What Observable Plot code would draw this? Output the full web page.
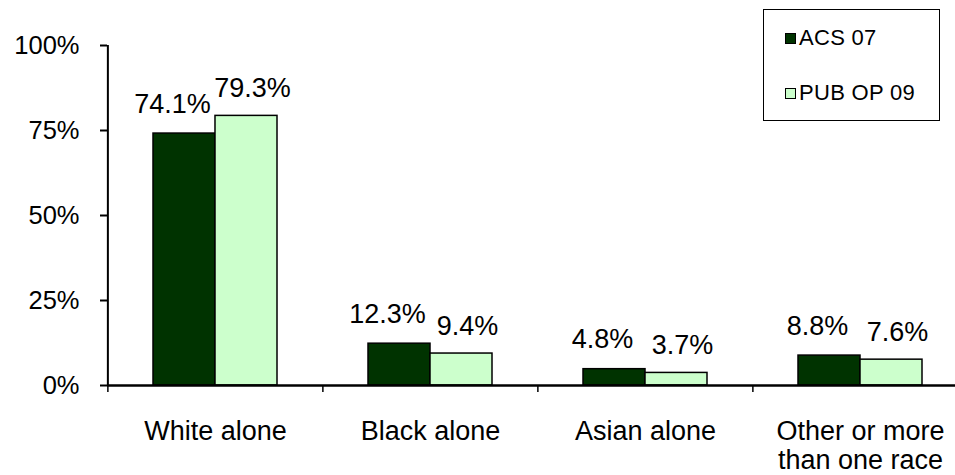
<!DOCTYPE html>
<html><head><meta charset="utf-8">
<script src="https://cdn.jsdelivr.net/npm/d3@7"></script>
<script src="https://cdn.jsdelivr.net/npm/@observablehq/plot@0.6"></script>
<style>
body{margin:0;background:#fff;}
#wrap{position:relative;width:955px;height:475px;font-family:"Liberation Sans",Arial,sans-serif;color:#000;}
#legend{position:absolute;left:763px;top:9px;width:177px;height:112px;box-sizing:border-box;border:1.5px solid #000;background:#fff;}
.item{position:absolute;left:21px;height:24px;display:flex;align-items:center;font-size:22px;letter-spacing:0.3px;white-space:nowrap;}
.sw{width:11px;height:11px;border:1px solid #000;margin-right:3px;box-sizing:border-box;}
</style></head><body><div id="wrap"></div>
<script>
const categories = ["White alone", "Black alone", "Asian alone", "Other or more\nthan one race"];
const seriesNames = ["ACS 07", "PUB OP 09"];
const acs07 = [74.1, 12.3, 4.8, 8.8];
const pubop09 = [79.3, 9.4, 3.7, 7.6];
const yTicks = [0, 25, 50, 75, 100];
const colors = ["#003300", "#CCFFCC"];

const acsRows = categories.map((c, i) => ({category: c, series: seriesNames[0], value: acs07[i]}));
const pubRows = categories.map((c, i) => ({category: c, series: seriesNames[1], value: pubop09[i]}));

const xRange = [107, 968];
const step = (xRange[1] - xRange[0]) / categories.length;
const paddingInner = 0.424;
const bw = step * (1 - paddingInner);
const font = '"Liberation Sans", Arial, sans-serif';

const plot = Plot.plot({
  width: 955, height: 475,
  marginLeft: 107, marginRight: 0, marginTop: 45, marginBottom: 90,
  style: {fontFamily: font, fontSize: "26px", color: "#000", background: "#fff", overflow: "visible"},
  x: {domain: categories, range: xRange, paddingInner, paddingOuter: paddingInner / 2, axis: null},
  y: {domain: [0, 100], axis: null},
  marks: [
    Plot.barY(acsRows, {x: "category", y: "value", fill: colors[0], stroke: "#000", strokeWidth: 1.5, insetRight: bw / 2}),
    Plot.barY(pubRows, {x: "category", y: "value", fill: colors[1], stroke: "#000", strokeWidth: 1.5, insetLeft: bw / 2}),
    Plot.text(acsRows, {x: "category", y: "value", text: d => d.value.toFixed(1) + "%", dx: -bw / 4 - 12, dy: -21, lineAnchor: "bottom", fontSize: 27, fill: "#000"}),
    Plot.text(pubRows, {x: "category", y: "value", text: d => d.value.toFixed(1) + "%", dx: bw / 4 + 6, dy: -19, lineAnchor: "bottom", fontSize: 27, fill: "#000"}),
    Plot.ruleY([0], {stroke: "#000", strokeWidth: 2.5}),
    Plot.ruleX([categories[0]], {y1: 0, y2: 100, dx: -step / 2, stroke: "#000", strokeWidth: 2}),
    Plot.ruleX(categories, {x: d => d, y1: 0, y2: 0, insetBottom: -7, dx: -step / 2, stroke: "#000", strokeWidth: 1.5}),
    Plot.axisY(yTicks, {anchor: "left", tickSize: 7, tickPadding: 21, tickFormat: d => d + "%", fontSize: 25.5, strokeWidth: 2, label: null}),
    Plot.axisX({anchor: "bottom", tickSize: 0, tickPadding: 35, fontSize: 27, lineHeight: 1.04, label: null})
  ]
});

const wrap = document.getElementById("wrap");
wrap.appendChild(plot);

const legend = document.createElement("div");
legend.id = "legend";
const rowTops = [16, 71];
seriesNames.forEach((name, i) => {
  const item = document.createElement("div");
  item.className = "item";
  item.style.top = rowTops[i] + "px";
  const sw = document.createElement("span");
  sw.className = "sw";
  sw.style.background = colors[i];
  const label = document.createElement("span");
  label.textContent = name;
  item.appendChild(sw);
  item.appendChild(label);
  legend.appendChild(item);
});
wrap.appendChild(legend);
</script>
</body></html>
